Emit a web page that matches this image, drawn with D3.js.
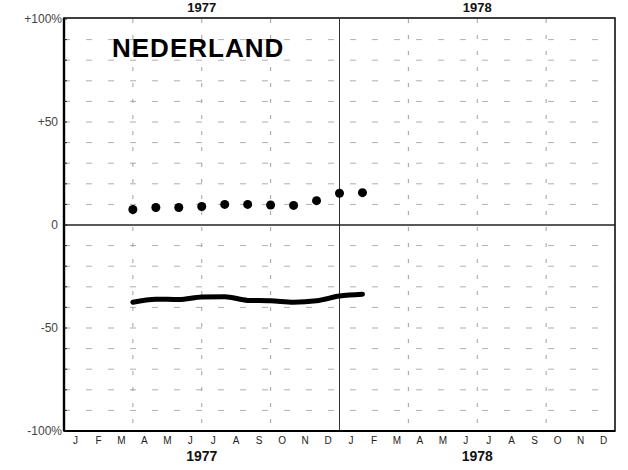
<!DOCTYPE html>
<html>
<head>
<meta charset="utf-8">
<script src="https://cdn.jsdelivr.net/npm/d3@7"></script>
<style>
  html, body { margin: 0; padding: 0; background: #fff; }
  svg { display: block; }
</style>
</head>
<body>
<svg id="chart" width="628" height="470"></svg>
<script>
// ---- data ----
const monthLabels = ["J","F","M","A","M","J","J","A","S","O","N","D","J","F","M","A","M","J","J","A","S","O","N","D"];
const yearLabels = ["1977", "1978"];
const yTickValues = [100, 50, 0, -50, -100];
const yTickLabels = ["+100%", "+50", "0", "-50", "-100%"];
// month index (month start, 0 = Jan 1977) of each observation
const obsMonths = [3, 4, 5, 6, 7, 8, 9, 10, 11, 12, 13];
const dotValues = [7.5, 8.5, 8.5, 9, 10, 10, 9.7, 9.5, 11.8, 15.4, 15.7];
const lineValues = [-37.5, -36.0, -36.2, -35.0, -34.8, -36.6, -36.8, -37.5, -36.8, -34.5, -33.6];
const title = "NEDERLAND";

// ---- layout ----
const svg = d3.select("#chart");
const pL = 64, pR = 615, pT = 19, pB = 431;
const x = d3.scaleLinear().domain([0, 24]).range([pL, pR]);
const y = d3.scaleLinear().domain([-100, 100]).range([pB, pT]);

// faint dashed grid (scanned look)
const g = svg.append("g");
const hGrid = d3.range(-90, 100, 10).filter(v => v !== 0);
g.selectAll("line.hg").data(hGrid).enter().append("line")
  .attr("x1", pL).attr("x2", pR)
  .attr("y1", d => y(d)).attr("y2", d => y(d))
  .attr("stroke", "#9a9a9a").attr("stroke-width", 0.8)
  .attr("stroke-dasharray", "6,16");
const vGrid = [3, 6, 9, 15, 18, 21];
g.selectAll("line.vg").data(vGrid).enter().append("line")
  .attr("x1", d => x(d)).attr("x2", d => x(d))
  .attr("y1", pT).attr("y2", pB)
  .attr("stroke", "#888").attr("stroke-width", 0.8)
  .attr("stroke-dasharray", "4,12");

// year separator
svg.append("line")
  .attr("x1", x(12)).attr("x2", x(12)).attr("y1", pT).attr("y2", pB)
  .attr("stroke", "#333").attr("stroke-width", 1);
// zero line
svg.append("line")
  .attr("x1", pL).attr("x2", pR).attr("y1", y(0)).attr("y2", y(0))
  .attr("stroke", "#222").attr("stroke-width", 1.4);

// frame
svg.append("rect")
  .attr("x", pL).attr("y", pT - 1)
  .attr("width", pR - pL).attr("height", pB - pT + 1)
  .attr("fill", "none").attr("stroke", "#111").attr("stroke-width", 1.6);
svg.append("line").attr("x1", pL).attr("x2", pL).attr("y1", pT - 1).attr("y2", pB)
  .attr("stroke", "#000").attr("stroke-width", 2.4);
svg.append("line").attr("x1", pL).attr("x2", pR).attr("y1", pB).attr("y2", pB)
  .attr("stroke", "#000").attr("stroke-width", 2);

// inner left ticks
svg.append("g").selectAll("line").data(d3.range(-100, 101, 10)).enter().append("line")
  .attr("x1", pL).attr("x2", pL + 3)
  .attr("y1", d => y(d)).attr("y2", d => y(d))
  .attr("stroke", "#222").attr("stroke-width", 1);

// y labels
svg.append("g").selectAll("text").data(yTickValues).enter().append("text")
  .attr("x", (d, i) => (i === 0 || i === 4) ? pL - 2 : pL - 6)
  .attr("y", d => y(d) + 4)
  .attr("text-anchor", "end")
  .attr("font-family", "Liberation Sans, Arial, sans-serif")
  .attr("font-size", 12)
  .attr("fill", "#444")
  .text((d, i) => yTickLabels[i]);

// month labels
svg.append("g").selectAll("text").data(monthLabels).enter().append("text")
  .attr("x", (d, i) => x(i + 0.5))
  .attr("y", pB + 13)
  .attr("text-anchor", "middle")
  .attr("font-family", "Liberation Sans, Arial, sans-serif")
  .attr("font-size", 10)
  .attr("fill", "#222")
  .text(d => d);

// year labels bottom and top
[0, 1].forEach(i => {
  svg.append("text")
    .attr("x", x(i * 12 + 6)).attr("y", pB + 30)
    .attr("text-anchor", "middle")
    .attr("font-family", "Liberation Sans, Arial, sans-serif")
    .attr("font-weight", "bold").attr("font-size", 14)
    .attr("fill", "#111")
    .text(yearLabels[i]);
  svg.append("text")
    .attr("x", x(i * 12 + 6)).attr("y", 12)
    .attr("text-anchor", "middle")
    .attr("font-family", "Liberation Sans, Arial, sans-serif")
    .attr("font-weight", "bold").attr("font-size", 13)
    .attr("fill", "#111")
    .text(yearLabels[i]);
});

// title
svg.append("text")
  .attr("x", 112).attr("y", 57)
  .attr("font-family", "Liberation Sans, Arial, sans-serif")
  .attr("font-weight", "bold").attr("font-size", 26)
  .attr("letter-spacing", 1)
  .attr("fill", "#000")
  .text(title);

// thick line
const line = d3.line()
  .x((d, i) => x(obsMonths[i]))
  .y(d => y(d))
  .curve(d3.curveMonotoneX);
svg.append("path")
  .datum(lineValues)
  .attr("d", line)
  .attr("fill", "none")
  .attr("stroke", "#000")
  .attr("stroke-width", 5)
  .attr("stroke-linecap", "round");

// dots
svg.append("g").selectAll("circle").data(dotValues).enter().append("circle")
  .attr("cx", (d, i) => x(obsMonths[i]))
  .attr("cy", d => y(d))
  .attr("r", 4.5)
  .attr("fill", "#000");
</script>
</body>
</html>
